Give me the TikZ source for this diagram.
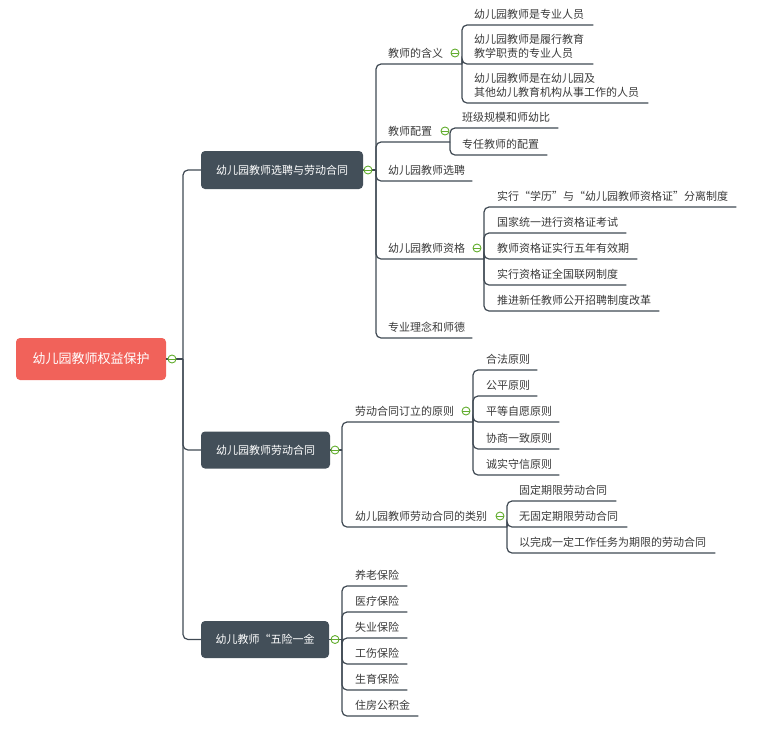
\documentclass[tikz,border=0pt]{standalone}
\usepackage{fontspec}
\setmainfont{Noto Sans CJK SC}
\definecolor{linec}{HTML}{3F4953}
\definecolor{topicc}{HTML}{434F59}
\definecolor{rootc}{HTML}{F1625A}
\definecolor{txtc}{HTML}{3A3A3A}
\definecolor{togc}{HTML}{62AD2E}
\newcommand\twol[2]{\begin{tabular}[b]{@{}l@{}}#1\\#2\end{tabular}}
\begin{document}
\begin{tikzpicture}[x=1pt,y=-1pt,
  conn/.style={draw=linec,line width=1.2pt,rounded corners=5pt},
  item/.style={anchor=south west,inner sep=0pt,text depth=6.8pt,text=txtc,
    font=\fontsize{11pt}{13pt}\selectfont},
  topic/.style={fill=topicc,rounded corners=4pt,text=white,inner sep=0pt,
    font=\fontsize{11pt}{13pt}\selectfont},
  toggle/.style={circle,draw=togc,fill=white,line width=0.9pt,minimum size=8pt,inner sep=0pt,
    path picture={\draw[togc,line width=0.9pt] (path picture bounding box.west) -- (path picture bounding box.east);}}]
\useasboundingbox (0,0) rectangle (760,732);
% ---------- nodes ----------
\node[fill=rootc,rounded corners=4pt,text=white,inner sep=0pt,minimum width=150pt,minimum height=42pt,
  font=\fontsize{13pt}{15pt}\selectfont] (root) at (91,359) {幼儿园教师权益保护};
\node[topic,minimum width=162pt,minimum height=38pt] (A) at (282,170) {幼儿园教师选聘与劳动合同};
\node[topic,minimum width=129pt,minimum height=37pt] (B) at (265.5,450) {幼儿园教师劳动合同};
\node[topic,minimum width=128pt,minimum height=37pt] (C) at (265,639.5) {幼儿教师“五险一金};
% junctions
\coordinate (R) at (183,359);
\coordinate (JA) at (376,170);
\coordinate (JB) at (342,450);
\coordinate (JC) at (342,639.5);
\coordinate (JA1) at (462,64);
\coordinate (JA2) at (450,142);
\coordinate (JA4) at (484,259);
\coordinate (JB1) at (473,422);
\coordinate (JB2) at (507,527);
% level 2 under A
\node[item] (A1) at (388,64) {教师的含义};
\node[item] (A2) at (388,142) {教师配置};
\node[item] (A3) at (388,181) {幼儿园教师选聘};
\node[item] (A4) at (388,259) {幼儿园教师资格};
\node[item] (A5) at (388,338) {专业理念和师德};
\node[item] (A11) at (474,25) {幼儿园教师是专业人员};
\node[item] (A12) at (474,64) {\twol{幼儿园教师是履行教育}{教学职责的专业人员}};
\node[item] (A13) at (474,103) {\twol{幼儿园教师是在幼儿园及}{其他幼儿教育机构从事工作的人员}};
\node[item] (A21) at (462,128) {班级规模和师幼比};
\node[item] (A22) at (462,155) {专任教师的配置};
\node[item] (A41) at (497,207) {实行“学历”与“幼儿园教师资格证”分离制度};
\node[item] (A42) at (497,233) {国家统一进行资格证考试};
\node[item] (A43) at (497,259) {教师资格证实行五年有效期};
\node[item] (A44) at (497,285) {实行资格证全国联网制度};
\node[item] (A45) at (497,311) {推进新任教师公开招聘制度改革};
% under B
\node[item] (B1) at (355,422) {劳动合同订立的原则};
\node[item] (B2) at (355,527) {幼儿园教师劳动合同的类别};
\node[item] (B11) at (486,370) {合法原则};
\node[item] (B12) at (486,396) {公平原则};
\node[item] (B13) at (486,422) {平等自愿原则};
\node[item] (B14) at (486,449) {协商一致原则};
\node[item] (B15) at (486,475) {诚实守信原则};
\node[item] (B21) at (519,501) {固定期限劳动合同};
\node[item] (B22) at (519,527) {无固定期限劳动合同};
\node[item] (B23) at (519,553) {以完成一定工作任务为期限的劳动合同};
% under C
\node[item] (C1) at (355,586) {养老保险};
\node[item] (C2) at (355,612) {医疗保险};
\node[item] (C3) at (355,638) {失业保险};
\node[item] (C4) at (355,664) {工伤保险};
\node[item] (C5) at (355,690) {生育保险};
\node[item] (C6) at (355,716) {住房公积金};
% ---------- connectors ----------
\draw[conn] (root.east) -- (R);
\foreach \t in {A,B,C} \draw[conn] (R) |- (\t.west);
\draw[conn] (A.east) -- (JA);
\draw[conn] (B.east) -- (JB);
\draw[conn] (C.east) -- (JC);
% A branches
\draw[conn] (JA) |- (JA1);
\draw[conn] (JA) |- (JA2);
\draw[conn] (JA) |- ([xshift=7pt]A3.south east);
\draw[conn] (JA) |- (JA4);
\draw[conn] (JA) |- ([xshift=7pt]A5.south east);
\foreach \n in {A11,A12,A13} \draw[conn] (JA1) |- ([xshift=9pt]\n.south east);
\foreach \n in {A21,A22} \draw[conn] (JA2) |- ([xshift=8pt]\n.south east);
\foreach \n in {A41,A42,A43,A44,A45} \draw[conn] (JA4) |- ([xshift=8pt]\n.south east);
% B branches
\draw[conn] (JB) |- (JB1);
\draw[conn] (JB) |- (JB2);
\foreach \n in {B11,B12,B13,B14,B15} \draw[conn] (JB1) |- ([xshift=7pt]\n.south east);
\foreach \n in {B21,B22,B23} \draw[conn] (JB2) |- ([xshift=9pt]\n.south east);
% C branches
\foreach \n in {C1,C2,C3,C4,C5,C6} \draw[conn] (JC) |- ([xshift=8pt]\n.south east);
% ---------- toggles ----------
\node[toggle] (t0) at (172,359) {};
\node[toggle] (tA) at (368,170) {};
\node[toggle] (tB) at (335,450) {};
\node[toggle] (tC) at (335,639.5) {};
\node[toggle] (tA1) at (455,53) {};
\node[toggle] (tA2) at (445,131) {};
\node[toggle] (tA4) at (477,248) {};
\node[toggle] (tB1) at (466,411) {};
\node[toggle] (tB2) at (500,516) {};
\end{tikzpicture}
\end{document}
